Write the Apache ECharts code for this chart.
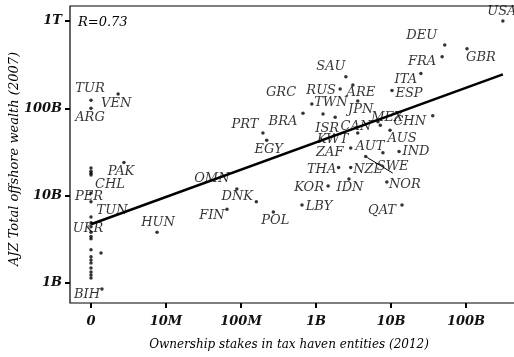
<!DOCTYPE html>
<html>
<head>
<meta charset="utf-8">
<script src="https://cdn.jsdelivr.net/npm/echarts@6/dist/echarts.min.js"></script>
<style>
  html, body { margin: 0; padding: 0; background: #fff; width: 514px; height: 357px; overflow: hidden; }
  /* the panel runs past the right edge of the page, so its right border is cut off */
  #chart { width: 530px; height: 357px; }
</style>
</head>
<body>
<div id="chart"></div>
<script>
// Country codes ('' = unlabelled observation)
const countries = [
  'USA','DEU','GBR','FRA','ITA','ESP','SAU','RUS','ARE','TWN',
  'JPN','BRA','GRC','ISR','PRT','EGY','MEX','CAN','KWT','CHN',
  'AUS','ZAF','AUT','IND','SWE','THA','NZL','IDN','KOR','NOR',
  'LBY','QAT','OMN','DNK','FIN','POL','HUN','VEN','PAK','',
  'BIH','TUR','ARG','','','','CHL','PER','TUN','',
  'UKR','','','','','','','','','',
  '','',''
];
// Ownership stakes in tax haven entities, 2012 (USD)
const stakes = [
  3.1e11, 5.2e10, 1.03e11, 4.8e10, 2.5e10, 1.03e10, 2.5e9, 2.1e9, 3.1e9, 8.8e8,
  3.6e9, 6.7e8, 1.24e9, 1.8e9, 1.96e8, 2.2e8, 7.2e9, 6.7e9, 3.6e9, 3.6e10,
  9.7e9, 2.9e9, 7.8e9, 1.28e10, 4.6e9, 2.0e9, 2.9e9, 2.75e9, 1.45e9, 8.8e9,
  6.5e8, 1.4e10, 8.8e7, 1.6e8, 6.5e7, 2.7e8, 7.6e6, 2.3e6, 2.75e6, 1.36e6,
  1.4e6, 0, 0, 0, 0, 0, 0, 0, 0, 0,
  0, 0, 0, 0, 0, 0, 0, 0, 0, 0,
  0, 0, 0
];
// AJZ total offshore wealth, 2007 (USD)
const offshore = [
  1.0e12, 5.3e11, 4.8e11, 3.9e11, 2.5e11, 1.6e11, 2.3e11, 1.66e11, 1.85e11, 1.12e11,
  1.21e11, 8.8e10, 8.6e10, 7.9e10, 5.2e10, 4.3e10, 6.4e10, 7.0e10, 5.2e10, 8.2e10,
  5.6e10, 3.5e10, 3.1e10, 3.2e10, 2.8e10, 2.1e10, 2.1e10, 1.55e10, 1.29e10, 1.43e10,
  7.8e9, 7.8e9, 1.19e10, 8.5e9, 7.0e9, 6.5e9, 3.8e9, 1.46e11, 2.4e10, 2.2e9,
  8.5e8, 1.24e11, 1.0e11, 2.07e10, 1.9e10, 1.8e10, 1.72e10, 1.07e10, 8.5e9, 5.7e9,
  4.9e9, 4.4e9, 3.8e9, 3.4e9, 3.2e9, 2.4e9, 2.0e9, 1.83e9, 1.69e9, 1.48e9,
  1.33e9, 1.23e9, 1.14e9
];
// Fitted regression line (start/end)
const fitStakes = [0, 3.1e11];
const fitOffshore = [4.7e9, 2.45e11];
const correlation = 'R=0.73';

// Tick values and labels
const xTickValues = [0, 1e7, 1e8, 1e9, 1e10, 1e11];
const xTickLabels = ['0', '10M', '100M', '1B', '10B', '100B'];
const yTickValues = [1e9, 1e10, 1e11, 1e12];
const yTickLabels = ['1B', '10B', '100B', '1T'];

// Label placement (pixel offset of label centre from its point)
const labelOffsets = {
  USA: [-1, -9], DEU: [-23, -9], GBR: [14, 9], FRA: [-20, 5], ITA: [-15, 6],
  ESP: [17, 3], SAU: [-15, -10], RUS: [-19, 2], ARE: [8, 8], TWN: [19, -1],
  JPN: [3, 9], BRA: [-20, 8], GRC: [-42, -21], ISR: [-8, 11], PRT: [-18, -8],
  EGY: [2, 9], MEX: [7, -8], CAN: [-22, 5], KWT: [-25, 7], CHN: [-23, 6],
  AUS: [12, 8], ZAF: [-21, 5], AUT: [-13, -6], IND: [17, 0], SWE: [27, 10],
  THA: [-17, 2], NZL: [17, 2], IDN: [1, 9], KOR: [-19, 2], NOR: [18, 3],
  LBY: [17, 2], QAT: [-20, 6], OMN: [-25, -10], DNK: [-19, -5], FIN: [-15, 6],
  POL: [2, 9], HUN: [1, -10], VEN: [-2, 10], PAK: [-3, 9], BIH: [-15, 6],
  TUR: [-1, -12], ARG: [-1, 9], CHL: [19, 10], PER: [-2, 4], TUN: [21, 9],
  UKR: [-3, 6]
};

// Pseudo-log scale for stakes: zero sits one decade below 10M
const xPos = v => Math.log10(Math.max(v, 1e6));
const yPos = v => Math.log10(v);

const serif = 'DejaVu Serif';

const points = stakes.map((s, i) => {
  const name = countries[i];
  const item = { name: name, value: [xPos(s), yPos(offshore[i])] };
  if (name) {
    item.label = { show: true, offset: labelOffsets[name] || [0, -8] };
    if (name === 'SWE') item.labelLine = { show: true, lineStyle: { color: '#000', width: 1 } };
  }
  return item;
});

const fitLine = fitStakes.map((s, i) => [xPos(s), yPos(fitOffshore[i])]);

const chart = echarts.init(document.getElementById('chart'));
chart.setOption({
  animation: false,
  backgroundColor: '#fff',
  grid: {
    left: 70, top: 6, right: 6, bottom: 54,
    show: true, borderColor: '#000', borderWidth: 1.2, backgroundColor: 'transparent'
  },
  xAxis: {
    type: 'value', min: 5.72, max: 11.773,
    splitLine: { show: false },
    axisLine: { show: false },
    axisTick: {
      show: true, length: 5, inside: false,
      customValues: xTickValues.map(xPos),
      lineStyle: { color: '#000', width: 2 }
    },
    axisLabel: {
      customValues: xTickValues.map(xPos),
      formatter: v => xTickLabels[xTickValues.map(xPos).findIndex(t => Math.abs(t - v) < 1e-6)] || '',
      margin: 12, color: '#111',
      fontFamily: serif, fontStyle: 'italic', fontWeight: 'bold', fontSize: 13
    }
  },
  yAxis: {
    type: 'value', min: 8.770, max: 12.172,
    splitLine: { show: false },
    axisLine: { show: false },
    axisTick: {
      show: true, length: 5, inside: false,
      customValues: yTickValues.map(yPos),
      lineStyle: { color: '#000', width: 2 }
    },
    axisLabel: {
      customValues: yTickValues.map(yPos),
      formatter: v => yTickLabels[yTickValues.map(yPos).findIndex(t => Math.abs(t - v) < 1e-6)] || '',
      margin: 8, color: '#111',
      fontFamily: serif, fontStyle: 'italic', fontWeight: 'bold', fontSize: 13
    }
  },
  graphic: [
    {
      type: 'text', left: 78, top: 16,
      style: { text: correlation, font: 'italic 13px "DejaVu Serif"', fill: '#000' }
    },
    {
      type: 'text', x: 289, y: 345,
      style: {
        text: 'Ownership stakes in tax haven entities (2012)',
        font: 'italic 12px "DejaVu Serif"', fill: '#000', align: 'center', verticalAlign: 'middle'
      }
    },
    {
      type: 'text', x: 15, y: 159, rotation: Math.PI / 2,
      style: {
        text: 'AJZ Total offshore wealth (2007)',
        font: 'italic 13px "DejaVu Serif"', fill: '#000', align: 'center', verticalAlign: 'middle'
      }
    }
  ],
  series: [
    {
      type: 'scatter', z: 2,
      symbolSize: 3.5,
      itemStyle: { color: '#000' },
      label: {
        show: false, position: 'inside', formatter: '{b}',
        color: '#000', fontFamily: serif, fontStyle: 'italic', fontSize: 13
      },
      labelLine: { show: false },
      emphasis: { disabled: true },
      data: points
    },
    {
      type: 'line', z: 5,
      symbol: 'none',
      lineStyle: { color: '#000', width: 2.5 },
      data: fitLine
    }
  ]
});
</script>
</body>
</html>
